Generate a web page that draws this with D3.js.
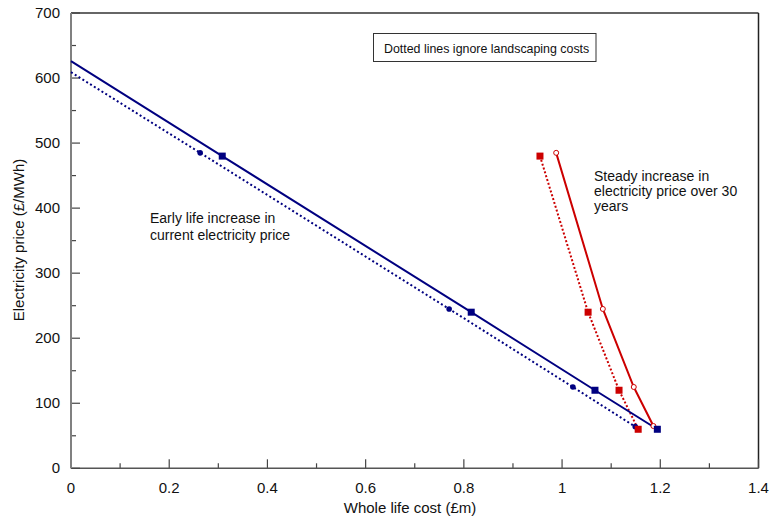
<!DOCTYPE html>
<html>
<head>
<meta charset="utf-8">
<script src="https://cdn.jsdelivr.net/npm/d3@7"></script>
<style>
  html, body { margin: 0; padding: 0; background: #fff; }
  svg { display: block; font-family: "Liberation Sans", Arial, sans-serif; }
</style>
</head>
<body>
<svg id="chart" width="771" height="517"></svg>
<script>
// ---- data ----
const xTicks = [0, 0.2, 0.4, 0.6, 0.8, 1, 1.2, 1.4];
const yTicks = [0, 100, 200, 300, 400, 500, 600, 700];

// Blue, solid (with landscaping) - squares
const blueSolidX = [0, 0.308, 0.815, 1.067, 1.194];
const blueSolidY = [626, 480, 240, 120, 60];
// Blue, dotted (ignore landscaping) - filled circles
const blueDotX = [0, 0.263, 0.77, 1.022, 1.149];
const blueDotY = [609, 485, 245, 125, 64];
// Red, solid - open circles
const redSolidX = [0.988, 1.083, 1.146, 1.186, 1.194];
const redSolidY = [485, 245, 125, 65, 60];
// Red, dotted - squares
const redDotX = [0.955, 1.053, 1.116, 1.155];
const redDotY = [480, 240, 120, 60];

const blue = "#000080";
const red = "#cc0000";

// ---- layout ----
const svg = d3.select("#chart");
const x = d3.scaleLinear().domain([0, 1.4]).range([71, 758.5]);
const y = d3.scaleLinear().domain([0, 700]).range([468.3, 13]);

// frame
svg.append("line").attr("x1", x(0)).attr("x2", x(1.4)).attr("y1", y(700)).attr("y2", y(700))
  .attr("stroke", "#333").attr("stroke-width", 1.3);
svg.append("line").attr("x1", x(1.4)).attr("x2", x(1.4)).attr("y1", y(700)).attr("y2", y(0))
  .attr("stroke", "#222").attr("stroke-width", 1.5);

// x axis ticks (inward)
const xMinor = d3.range(0, 1.41, 0.1).map(v => +v.toFixed(2));
svg.append("g").selectAll("line").data(xMinor).join("line")
  .attr("x1", d => x(d)).attr("x2", d => x(d))
  .attr("y1", y(0))
  .attr("y2", (d, i) => y(0) - (i % 2 === 0 ? 9 : 5))
  .attr("stroke", "#444").attr("stroke-width", 1.2);
svg.append("line").attr("x1", x(0)).attr("x2", x(1.4)).attr("y1", y(0)).attr("y2", y(0))
  .attr("stroke", "#555").attr("stroke-width", 1.5);
svg.append("g").selectAll("text").data(xTicks).join("text")
  .attr("x", d => x(d)).attr("y", y(0) + 25)
  .attr("text-anchor", "middle").attr("font-size", 15).attr("fill", "#111")
  .text(d => d3.format("~g")(d));

// y axis ticks (inward)
const yMinor = d3.range(0, 701, 50);
svg.append("g").selectAll("line").data(yMinor).join("line")
  .attr("x1", x(0)).attr("x2", (d, i) => x(0) + (i % 2 === 0 ? 9 : 5))
  .attr("y1", d => y(d)).attr("y2", d => y(d))
  .attr("stroke", "#444").attr("stroke-width", 1.2);
svg.append("line").attr("x1", x(0)).attr("x2", x(0)).attr("y1", y(700)).attr("y2", y(0))
  .attr("stroke", "#808080").attr("stroke-width", 2);
svg.append("g").selectAll("text").data(yTicks).join("text")
  .attr("x", 60).attr("y", d => y(d) + 5)
  .attr("text-anchor", "end").attr("font-size", 15).attr("fill", "#111")
  .text(d => d);

// axis titles
svg.append("text").attr("x", 410).attr("y", 513).attr("text-anchor", "middle")
  .attr("font-size", 15).attr("fill", "#111").text("Whole life cost (£m)");
svg.append("text").attr("transform", "translate(24,240) rotate(-90)").attr("text-anchor", "middle")
  .attr("font-size", 15).attr("fill", "#111").text("Electricity price (£/MWh)");

// lines
const line = (xs, ys) => d3.line()(xs.map((v, i) => [x(v), y(ys[i])]));
svg.append("path").attr("d", line(blueDotX, blueDotY)).attr("fill", "none")
  .attr("stroke", blue).attr("stroke-width", 2).attr("stroke-dasharray", "2,2.5");
svg.append("path").attr("d", line(redDotX, redDotY)).attr("fill", "none")
  .attr("stroke", red).attr("stroke-width", 2).attr("stroke-dasharray", "2,2");
svg.append("path").attr("d", line(redSolidX, redSolidY)).attr("fill", "none")
  .attr("stroke", red).attr("stroke-width", 2);
svg.append("path").attr("d", line(blueSolidX, blueSolidY)).attr("fill", "none")
  .attr("stroke", blue).attr("stroke-width", 2);

// markers
const bdPts = blueDotX.map((v, i) => [v, blueDotY[i]]).slice(1);
svg.append("g").selectAll("circle").data(bdPts).join("circle")
  .attr("cx", d => x(d[0])).attr("cy", d => y(d[1])).attr("r", 2.8).attr("fill", blue);
const rsPts = redSolidX.map((v, i) => [v, redSolidY[i]]).slice(0, 4);
svg.append("g").selectAll("circle").data(rsPts).join("circle")
  .attr("cx", d => x(d[0])).attr("cy", d => y(d[1])).attr("r", 2.5)
  .attr("fill", "#fff").attr("stroke", red).attr("stroke-width", 1);
const rdPts = redDotX.map((v, i) => [v, redDotY[i]]);
svg.append("g").selectAll("rect").data(rdPts).join("rect")
  .attr("x", d => x(d[0]) - 3.5).attr("y", d => y(d[1]) - 3.5).attr("width", 7).attr("height", 7)
  .attr("fill", red);
const bsPts = blueSolidX.map((v, i) => [v, blueSolidY[i]]).slice(1);
svg.append("g").selectAll("rect").data(bsPts).join("rect")
  .attr("x", d => x(d[0]) - 3.5).attr("y", d => y(d[1]) - 3.5).attr("width", 7).attr("height", 7)
  .attr("fill", blue);

// annotations
const ann1 = svg.append("text").attr("font-size", 14).attr("fill", "#111");
ann1.append("tspan").attr("x", 150).attr("y", 223).text("Early life increase in");
ann1.append("tspan").attr("x", 150).attr("y", 240).text("current electricity price");
const ann2 = svg.append("text").attr("font-size", 14).attr("fill", "#111");
ann2.append("tspan").attr("x", 594).attr("y", 181).text("Steady increase in");
ann2.append("tspan").attr("x", 594).attr("y", 196).text("electricity price over 30");
ann2.append("tspan").attr("x", 594).attr("y", 211).text("years");

// note box
svg.append("rect").attr("x", 373.5).attr("y", 33.5).attr("width", 222.5).attr("height", 28)
  .attr("fill", "#fff").attr("stroke", "#333").attr("stroke-width", 1);
svg.append("text").attr("x", 384).attr("y", 52.5).attr("font-size", 12.4).attr("fill", "#111")
  .text("Dotted lines ignore landscaping costs");
</script>
</body>
</html>
